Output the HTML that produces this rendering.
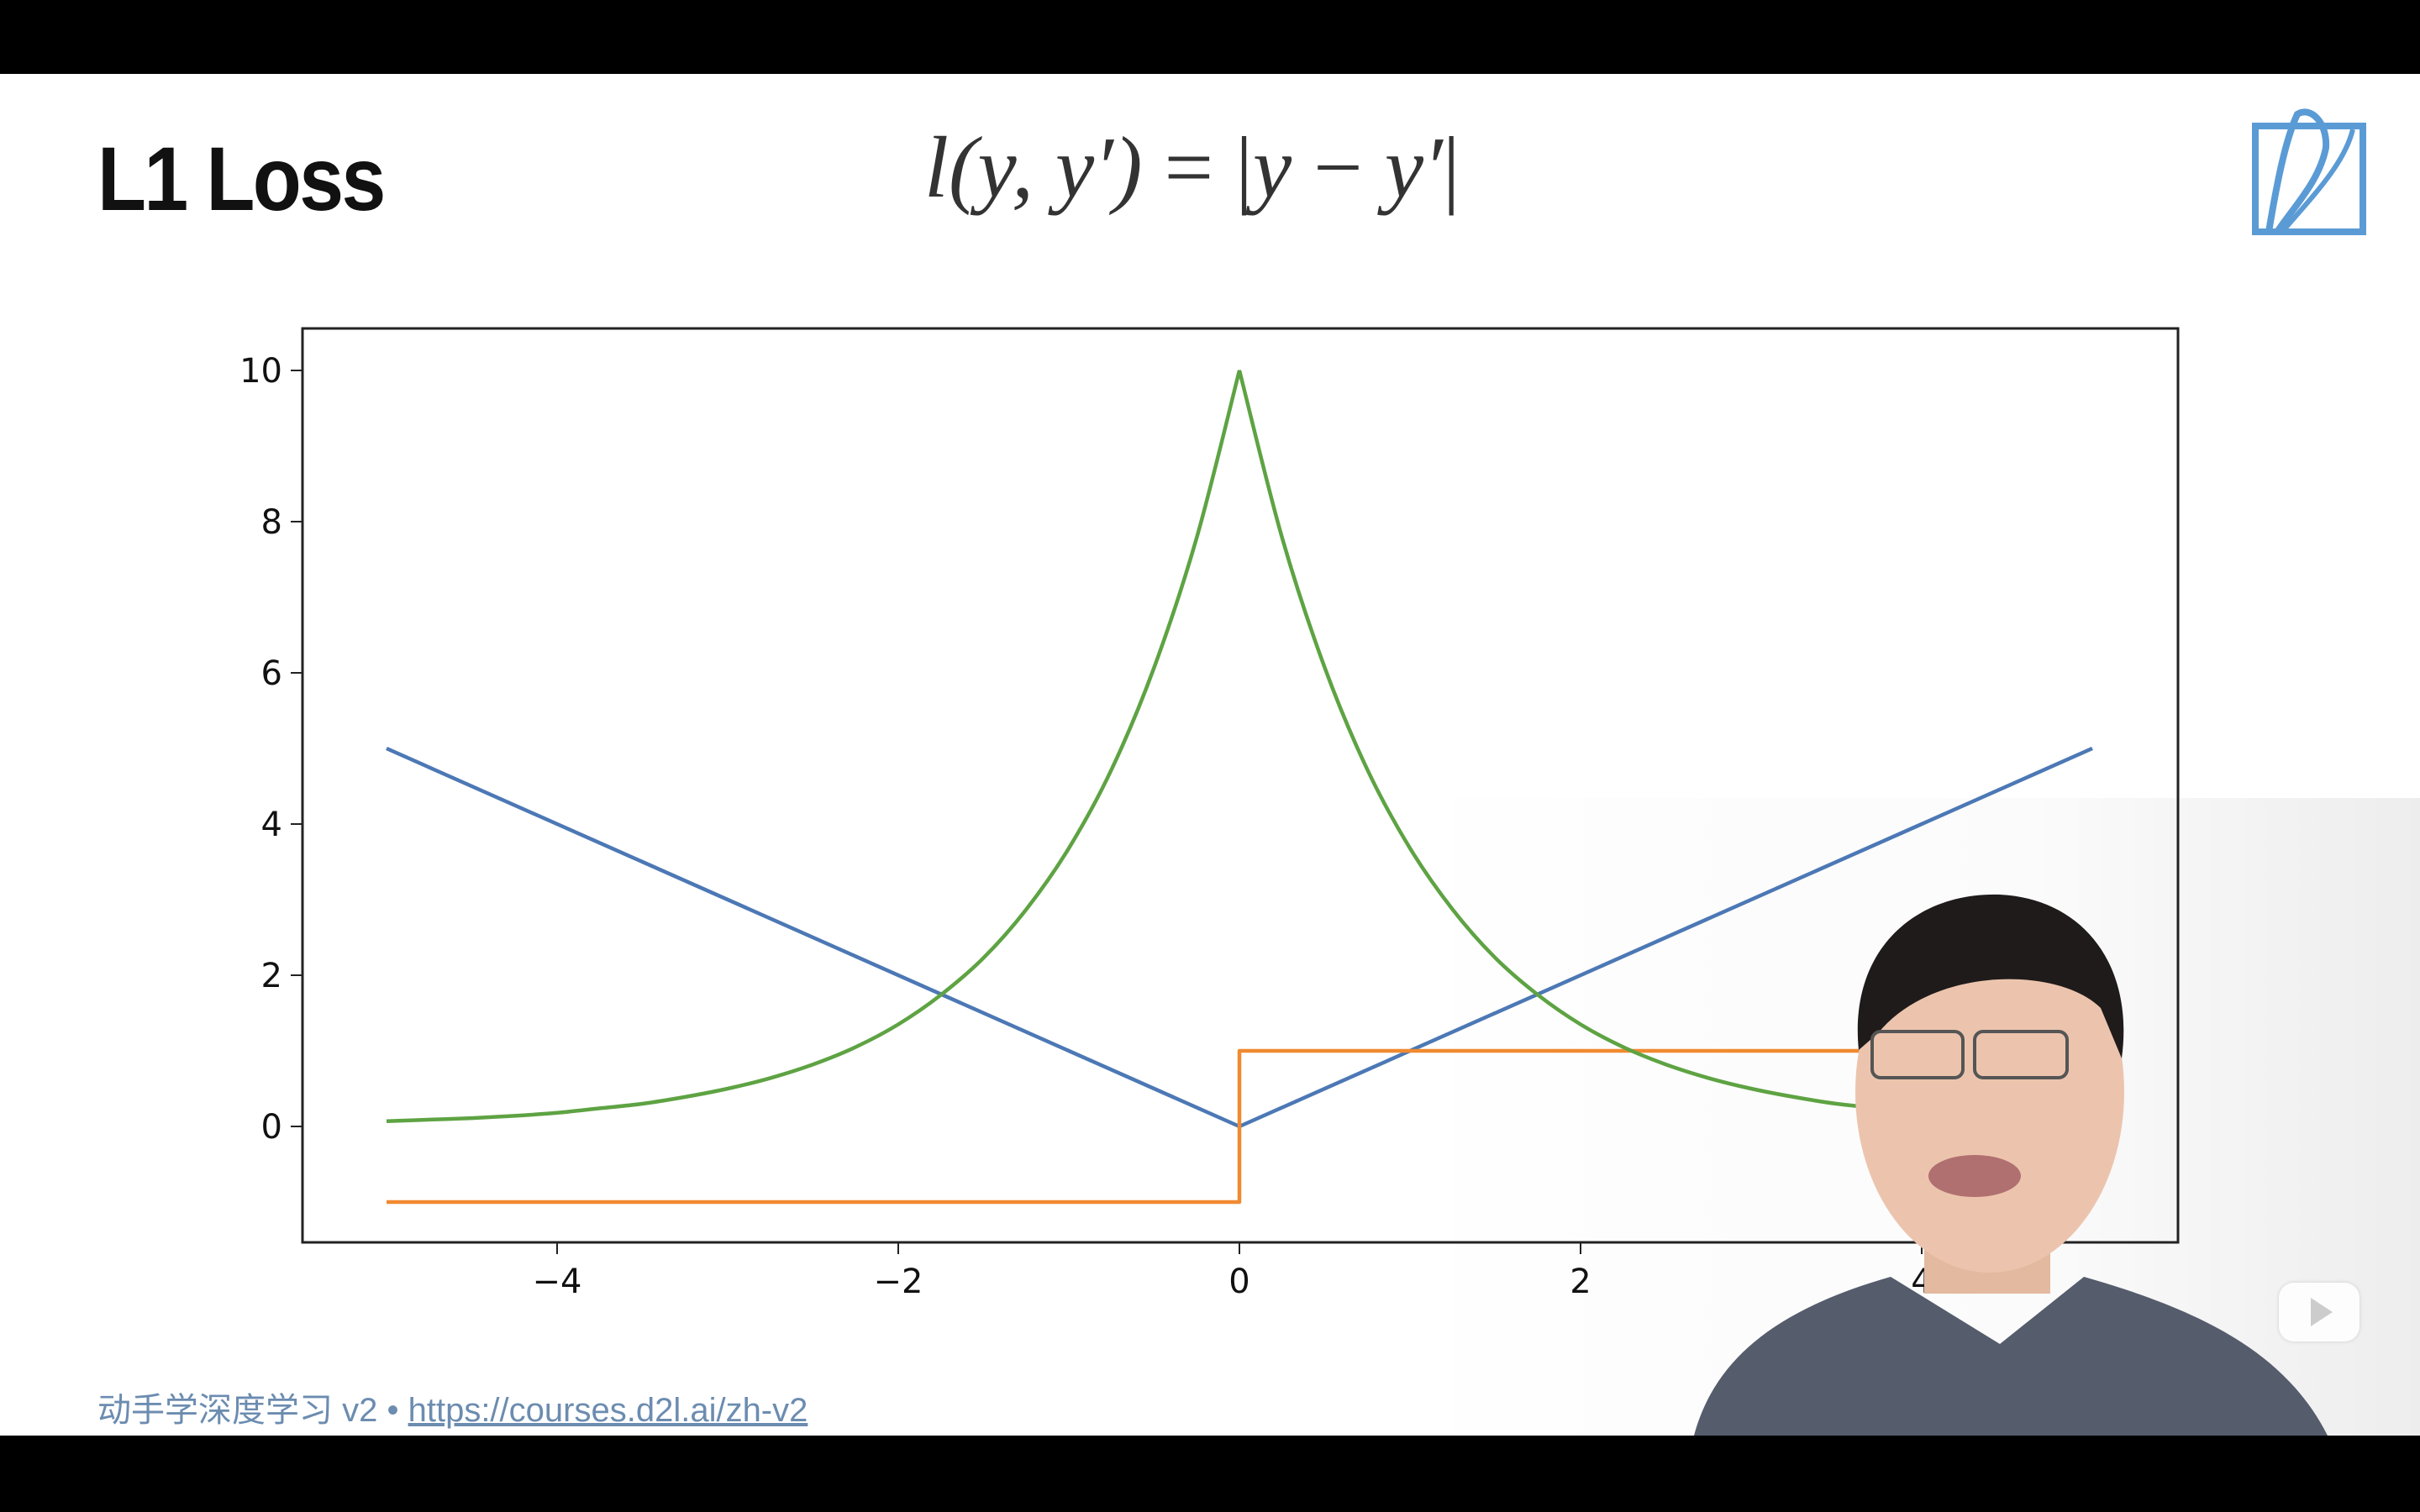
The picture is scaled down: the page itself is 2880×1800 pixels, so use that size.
<!DOCTYPE html>
<html><head><meta charset="utf-8"><style>
html,body{margin:0;padding:0;width:2880px;height:1800px;overflow:hidden;background:#fff}
body{position:relative;font-family:"Liberation Sans","Noto Sans CJK SC",sans-serif}
.abs{position:absolute}
</style></head><body>
<div class="abs" style="left:0;top:0;width:2880px;height:88px;background:#000"></div>
<div class="abs" style="left:0;top:1709px;width:2880px;height:91px;background:#000"></div>
<div class="abs" style="left:116px;top:150px;font-size:108px;font-weight:bold;color:#111;letter-spacing:-3px;transform:scaleX(0.88);transform-origin:left top;white-space:nowrap">L1 Loss</div>
<div class="abs" style="left:1100px;top:140px;font-size:104px;color:#333;font-family:'Liberation Serif',serif;font-style:italic;white-space:nowrap">l(y, y′) <span style="font-style:normal">= |</span>y <span style="font-style:normal">−</span> y′<span style="font-style:normal">|</span></div>
<svg class="abs" style="left:2680px;top:126px" width="140" height="156" viewBox="0 0 140 156">
<path d="M4 24 H132 V150 H4 Z" fill="none" stroke="#5b9bd5" stroke-width="8"/>
<path d="M20 150 C30 90 40 40 54 10 C70 0 90 20 88 50 C80 90 50 120 30 150" fill="none" stroke="#5b9bd5" stroke-width="8"/>
<path d="M36 150 C70 110 110 70 120 28" fill="none" stroke="#5b9bd5" stroke-width="6"/>
</svg>
<div class="abs" style="left:1730px;top:950px;width:1150px;height:759px;background:linear-gradient(90deg,#fefefe,#fbfbfb 60%,#ededed)"></div>
<svg id="chart" class="abs" style="left:0;top:0" width="2880" height="1800"></svg>
<svg class="abs" style="left:0;top:0" width="2880" height="1800">
<path d="M2016 1709 C2040 1620 2110 1560 2250 1520 L2380 1600 L2480 1520 C2620 1560 2720 1610 2770 1709 Z" fill="#555c6c"/>
<rect x="2290" y="1430" width="150" height="110" fill="#e3b9a0"/>
<ellipse cx="2368" cy="1300" rx="160" ry="215" fill="#ecc4ad"/>
<path d="M2212 1250 C2200 1130 2280 1062 2380 1065 C2480 1070 2540 1150 2525 1260 L2500 1200 C2450 1150 2300 1150 2235 1230 Z" fill="#1f1b1b"/>
<rect x="2228" y="1228" width="108" height="55" rx="10" fill="none" stroke="#555" stroke-width="4"/>
<rect x="2350" y="1228" width="110" height="55" rx="10" fill="none" stroke="#555" stroke-width="4"/>
<ellipse cx="2350" cy="1400" rx="55" ry="25" fill="#b07070"/>
</svg>
<div class="abs" style="left:2712px;top:1527px;width:96px;height:70px;border-radius:18px;background:rgba(255,255,255,0.85);box-shadow:0 0 4px #ccc"><div style="position:absolute;left:38px;top:18px;width:0;height:0;border-left:26px solid #ccc;border-top:17px solid transparent;border-bottom:17px solid transparent"></div></div>
<div class="abs" style="left:116px;top:1646px;font-size:40px;color:#6c8cb0;white-space:nowrap;font-family:'Liberation Sans','Noto Sans CJK SC',sans-serif">动手学深度学习 v2 • <span style="text-decoration:underline">https://courses.d2l.ai/zh-v2</span></div>
<script>
const xTicks=[-4,-2,0,2,4];
const yTicks=[0,2,4,6,8,10];
const blueX=[-5,0,5];
const l1Loss=[5,0,5];
const gradX=[-5,0,0,5];
const gradient=[-1,-1,1,1];
const greenX=[-5,-4.75,-4.5,-4.25,-4,-3.75,-3.5,-3.25,-3,-2.75,-2.5,-2.25,-2,-1.75,-1.5,-1.25,-1,-0.75,-0.5,-0.25,0,0.25,0.5,0.75,1,1.25,1.5,1.75,2,2.25,2.5,2.75,3,3.25,3.5,3.75,4,4.25,4.5,4.75,5];
const likelihood=[0.07,0.09,0.11,0.14,0.18,0.24,0.3,0.39,0.5,0.64,0.82,1.05,1.35,1.74,2.23,2.87,3.68,4.72,6.07,7.79,10,7.79,6.07,4.72,3.68,2.87,2.23,1.74,1.35,1.05,0.82,0.64,0.5,0.39,0.3,0.24,0.18,0.14,0.11,0.09,0.07];
const NS='http://www.w3.org/2000/svg';
const svg=document.getElementById('chart');
const L=360,T=391,R=2592,B=1479;
const sx=v=>1475+v*203;
const sy=v=>1341-v*90;
function mk(tag,attrs){const e=document.createElementNS(NS,tag);for(const k in attrs)e.setAttribute(k,attrs[k]);svg.appendChild(e);return e;}
const frame=mk('rect',{x:L,y:T,width:R-L,height:B-T,fill:'none',stroke:'#222','stroke-width':3});


xTicks.forEach(t=>{
 const tk=mk('line',{x1:sx(t),x2:sx(t),y1:B,y2:B+14,stroke:'#222','stroke-width':2});
 
 
 const tx=mk('text',{x:sx(t),y:B+60,'text-anchor':'middle','font-size':40,fill:'#111','font-family':'DejaVu Sans, sans-serif'});
 tx.textContent=t<0?'\u2212'+(-t):String(t);
 
 
});
yTicks.forEach(t=>{
 const tk=mk('line',{x1:L-14,x2:L,y1:sy(t),y2:sy(t),stroke:'#222','stroke-width':2});
 
 
 const tx=mk('text',{x:L-24,y:sy(t)+14,'text-anchor':'end','font-size':40,fill:'#111','font-family':'DejaVu Sans, sans-serif'});
 tx.textContent=String(t);
 
 
});
function line(xa,ya,color,name){
 const p=mk('polyline',{points:xa.map((x,i)=>sx(x)+','+sy(ya[i])).join(' '),fill:'none',stroke:color,'stroke-width':4.5,'stroke-linejoin':'round'});
 
 
}
line(blueX,l1Loss,'#4c78b5','l1-loss-line');
line(gradX,gradient,'#f08a30','gradient-line');
(function(){
 const pts=greenX.map((x,i)=>[sx(x),sy(likelihood[i])]);
 const pk=likelihood.indexOf(Math.max(...likelihood));
 let d='M'+pts[0].join(',');
 for(let i=0;i<pts.length-1;i++){
  const p0=(i===pk||!pts[i-1])?pts[i]:pts[i-1],p1=pts[i],p2=pts[i+1],p3=(i+1===pk||!pts[i+2])?p2:pts[i+2];
  const c1=[p1[0]+(p2[0]-p0[0])/6,p1[1]+(p2[1]-p0[1])/6];
  const c2=[p2[0]-(p3[0]-p1[0])/6,p2[1]-(p3[1]-p1[1])/6];
  d+=' C'+c1.join(',')+' '+c2.join(',')+' '+p2.join(',');
 }
 const p=mk('path',{d:d,fill:'none',stroke:'#5ea343','stroke-width':4.5});
 
 
})();
</script>
</body></html>
